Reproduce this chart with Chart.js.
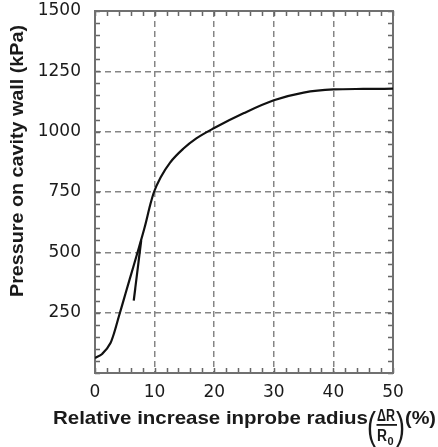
<!DOCTYPE html>
<html>
<head>
<meta charset="utf-8">
<script src="https://cdn.jsdelivr.net/npm/chart.js@4/dist/chart.umd.min.js"></script>
<style>
  html, body { margin: 0; padding: 0; background: #fff; }
  canvas { display: block; }
</style>
</head>
<body>
<canvas id="chart" width="438" height="447"></canvas>
<script>
// --- DATA ---
// main pressuremeter curve: relative radius increase (%) vs pressure (kPa)
const mainX = [0, 1.2, 2.6, 3.2, 4.0, 4.8, 5.8, 7.4, 8.4, 9.3, 9.9, 11.0, 12.6, 14.8, 17.0, 20.0, 25.0, 30.0, 35.0, 40.0, 45.0, 50.0];
const mainY = [62, 79, 124, 165, 234, 302, 387, 522, 610, 700, 750, 810, 872, 929, 972, 1015, 1077, 1130, 1162, 1175, 1177, 1178];

// short reload branch
const branchX = [6.5, 7.75];
const branchY = [300, 550];

// axes
const xMin = 0, xMax = 50, xStep = 10, xMinor = 2;
const yMin = 0, yMax = 1500, yStep = 250, yMinor = 50;

const yTitle = 'Pressure on cavity wall (kPa)';
const xTitle = 'Relative increase inprobe radius';

const toPoints = (xs, ys) => xs.map((x, i) => ({ x: x, y: ys[i] }));

// Helper: draw text stretched (or squeezed) to a given width
function fitText(ctx, text, x, y, w) {
    const m = ctx.measureText(text).width;
    ctx.save();
    ctx.translate(x, y);
    ctx.scale(w / m, 1);
    ctx.fillText(text, 0, 0);
    ctx.restore();
}

// frame, minor ticks and titles
const framePlugin = {
    id: 'frame',
    beforeDatasetsDraw(chart) {
        const { ctx, chartArea: a, scales } = chart;
        ctx.save();
        ctx.strokeStyle = '#666';
        ctx.lineWidth = 1.5;
        // minor ticks, pointing inward, on all four sides
        ctx.beginPath();
        for (let v = xMin; v <= xMax; v += xMinor) {
            const px = Math.round(scales.x.getPixelForValue(v)) + 0.5;
            ctx.moveTo(px, a.bottom); ctx.lineTo(px, a.bottom - 5);
            ctx.moveTo(px, a.top); ctx.lineTo(px, a.top + 5);
        }
        for (let v = yMin; v <= yMax; v += yMinor) {
            const py = Math.round(scales.y.getPixelForValue(v)) + 0.5;
            ctx.moveTo(a.left, py); ctx.lineTo(a.left + 5, py);
            ctx.moveTo(a.right, py); ctx.lineTo(a.right - 5, py);
        }
        ctx.stroke();
        ctx.lineWidth = 2;
        ctx.strokeStyle = '#707070';
        ctx.strokeRect(a.left, a.top, a.right - a.left, a.bottom - a.top);
        ctx.restore();
    },
    afterDraw(chart) {
        const ctx = chart.ctx;
        ctx.save();
        ctx.fillStyle = '#1a1a1a';
        ctx.textBaseline = 'alphabetic';

        // y title
        ctx.font = 'bold 18.5px "Liberation Sans", Arial, sans-serif';
        ctx.save();
        ctx.translate(23, 161);
        ctx.rotate(-Math.PI / 2);
        ctx.textAlign = 'center';
        fitText(ctx, yTitle, 0, 0, 272);
        ctx.restore();

        // x title
        const B = 424;
        ctx.textAlign = 'left';
        ctx.font = 'bold 18.5px "Liberation Sans", Arial, sans-serif';
        fitText(ctx, xTitle, 53, B, 315);

        // big parentheses round the fraction
        ctx.textAlign = 'center';
        ctx.font = '38px "Liberation Sans", Arial, sans-serif';
        fitText(ctx, '(', 371.5, B + 15, 9);
        fitText(ctx, ')', 400.5, B + 15, 9);

        // fraction dR / R0
        ctx.font = 'bold 16px "Liberation Sans", Arial, sans-serif';
        fitText(ctx, '\u0394R', 386, B - 3, 18);
        ctx.fillRect(376.5, B, 20.5, 1.8);
        ctx.textAlign = 'left';
        fitText(ctx, 'R', 377, B + 17, 10);
        ctx.font = 'bold 11px "Liberation Sans", Arial, sans-serif';
        ctx.fillText('0', 387.5, B + 21);

        // (%)
        ctx.font = 'bold 18.5px "Liberation Sans", Arial, sans-serif';
        fitText(ctx, '(%)', 405, B, 31);
        ctx.restore();
    }
};

const gridColor = (lo, hi) => (c) => {
    const v = c.tick ? c.tick.value : null;
    return (v !== null && v > lo && v < hi) ? '#858585' : 'rgba(0,0,0,0)';
};

new Chart(document.getElementById('chart').getContext('2d'), {
    type: 'scatter',
    data: {
        datasets: [
            {
                data: toPoints(mainX, mainY),
                showLine: true,
                borderColor: '#111',
                borderWidth: 2.2,
                pointRadius: 0,
                cubicInterpolationMode: 'monotone',
                fill: false
            },
            {
                data: toPoints(branchX, branchY),
                showLine: true,
                borderColor: '#111',
                borderWidth: 2.2,
                pointRadius: 0,
                fill: false
            }
        ]
    },
    options: {
        responsive: false,
        animation: false,
        layout: { padding: { top: 11, right: 45, left: 0, bottom: 0 } },
        plugins: {
            legend: { display: false },
            tooltip: { enabled: false }
        },
        scales: {
            x: {
                type: 'linear',
                min: xMin, max: xMax,
                afterFit: (s) => { s.height = 74; },
                ticks: {
                    stepSize: xStep,
                    padding: 9,
                    color: '#1a1a1a',
                    font: { family: '"DejaVu Sans", sans-serif', size: 17 }
                },
                grid: { drawTicks: false, color: gridColor(xMin, xMax), lineWidth: 1.5 },
                border: { display: false, dash: [6, 4] }
            },
            y: {
                type: 'linear',
                min: yMin, max: yMax,
                // fixed axis width; drop the label overhang so the plot starts at the top
                afterFit: (s) => { s.width = 95; s.paddingTop = 0; s.paddingBottom = 0; },
                ticks: {
                    stepSize: yStep,
                    padding: 14,
                    color: '#1a1a1a',
                    font: { family: '"DejaVu Sans", sans-serif', size: 17 },
                    callback: (v) => v === 0 ? '' : v
                },
                grid: { drawTicks: false, color: gridColor(yMin, yMax), lineWidth: 1.5 },
                border: { display: false, dash: [6, 4] }
            }
        }
    },
    plugins: [framePlugin]
});
</script>
</body>
</html>
